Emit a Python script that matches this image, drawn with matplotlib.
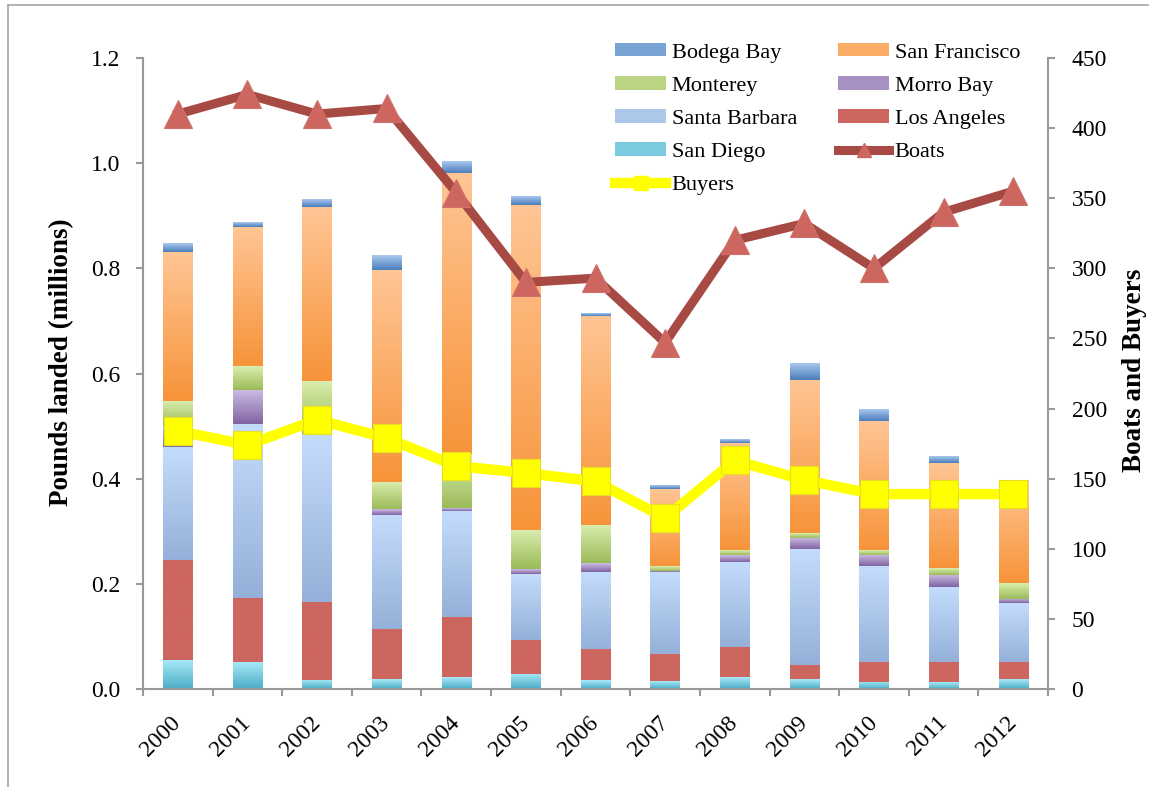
import numpy as np
import matplotlib
matplotlib.use("Agg")
import matplotlib.pyplot as plt
from matplotlib.patches import Patch
from matplotlib.lines import Line2D
from matplotlib.colors import to_rgb

plt.rcParams['font.family'] = ['Liberation Serif', 'DejaVu Serif']

# data (pounds landed in millions, stacked bottom -> top)
years = ['2000', '2001', '2002', '2003', '2004', '2005', '2006',
         '2007', '2008', '2009', '2010', '2011', '2012']
san_diego     = [0.055, 0.051, 0.018, 0.019, 0.022, 0.029, 0.017, 0.015, 0.022, 0.019, 0.014, 0.013, 0.019]
los_angeles   = [0.190, 0.122, 0.148, 0.095, 0.114, 0.065, 0.059, 0.051, 0.057, 0.027, 0.037, 0.038, 0.032]
santa_barbara = [0.216, 0.331, 0.318, 0.217, 0.203, 0.125, 0.147, 0.157, 0.163, 0.220, 0.182, 0.143, 0.113]
morro_bay     = [0.039, 0.065, 0.003, 0.011, 0.005, 0.009, 0.016, 0.002, 0.013, 0.022, 0.022, 0.023, 0.008]
monterey      = [0.048, 0.045, 0.099, 0.052, 0.102, 0.075, 0.073, 0.009, 0.009, 0.008, 0.009, 0.013, 0.030]
san_francisco = [0.283, 0.265, 0.331, 0.403, 0.535, 0.617, 0.398, 0.147, 0.203, 0.292, 0.246, 0.200, 0.194]
bodega_bay    = [0.017, 0.009, 0.015, 0.027, 0.022, 0.017, 0.005, 0.007, 0.006, 0.031, 0.021, 0.013, 0.000]

boats  = [410, 424, 410, 414, 354, 290, 293, 247, 320, 332, 300, 340, 355]
buyers = [184, 174, 192, 179, 159, 154, 148, 122, 163, 149, 139, 139, 139]

# name, values, top colour, bottom colour (excel style gradient)
series = [
    ('San Diego', san_diego, '#A8E8F8', '#4BADC6'),
    ('Los Angeles', los_angeles, '#CD665F', '#CD665F'),
    ('Santa Barbara', santa_barbara, '#C4DCFC', '#95B1D9'),
    ('Morro Bay', morro_bay, '#CDBDE4', '#8064A2'),
    ('Monterey', monterey, '#DAEEAE', '#9BBB59'),
    ('San Francisco', san_francisco, '#FFC594', '#F7943A'),
    ('Bodega Bay', bodega_bay, '#AAC8EF', '#4A7EBB'),
]

fig = plt.figure(figsize=(11.49, 7.87), dpi=100)
ax = fig.add_axes([143/1149, 1-689/787, (1048-143)/1149, (689-58)/787])
ax2 = ax.twinx()

x = np.arange(len(years))
w = 0.42
bottom = np.zeros(len(years))
mid = {}
for name, vals, ctop, cbot in series:
    t = np.array(to_rgb(ctop)); b = np.array(to_rgb(cbot))
    grad = np.linspace(0, 1, 64)[:, None, None]
    img = t[None, None, :] * (1 - grad) + b[None, None, :] * grad
    for i, v in enumerate(vals):
        if v <= 0:
            continue
        ax.imshow(img, extent=[x[i]-w/2, x[i]+w/2, bottom[i], bottom[i]+v],
                  aspect='auto', origin='upper', interpolation='bilinear', zorder=2)
    bottom += np.array(vals)
    mid[name] = tuple((t + b) / 2)

ax.set_xlim(-0.5, len(years)-0.5)
ax.set_ylim(0, 1.2)
ax.set_yticks(np.arange(0, 1.21, 0.2))
ax.set_yticklabels(['%.1f' % v for v in np.arange(0, 1.21, 0.2)])

ax2.plot(x, boats, color='#A84A44', lw=6.5, marker='^', ms=19.5,
         mfc='#CD665F', mec='#D0706A', mew=0.8, zorder=5, solid_joinstyle='miter')
ax2.plot(x, buyers, color='#FFFF00', lw=7.5, marker='s', ms=20,
         mfc='#FFFF00', mec='#E8E020', mew=0.8, zorder=4)
ax2.set_ylim(0, 450)
ax2.set_yticks(range(0, 451, 50))

gray = '#999999'
for a in (ax, ax2):
    for s in a.spines.values():
        s.set_color(gray)
        s.set_linewidth(1.5)
    a.spines['top'].set_visible(False)
ax2.spines['left'].set_visible(False)
ax2.spines['bottom'].set_visible(False)
ax.spines['right'].set_visible(False)

ax.tick_params(axis='y', direction='out', length=5, width=1.5, color=gray,
               labelsize=17, pad=11)
ax2.tick_params(axis='y', direction='out', length=5, width=1.5, color=gray,
                labelsize=17, pad=12)
ax.set_xticks(x)
ax.set_xticklabels(years)
ax.set_xticks(np.arange(-0.5, len(years)), minor=True)
ax.tick_params(axis='x', which='major', length=0, labelsize=17, pad=22)
ax.tick_params(axis='x', which='minor', direction='out', length=5, width=1.5, color=gray)
plt.setp(ax.get_xticklabels(), rotation=45, ha='right', va='center', rotation_mode='anchor')

fig.text(62/1149, 1-362/787, 'Pounds landed (millions)', rotation=90, ha='center',
         va='center', fontsize=19.5, fontweight='bold')
fig.text(1147/1149, 1-370/787, 'Boats and Buyers', rotation=90, ha='right',
         va='center', fontsize=19.5, fontweight='bold')

# legend, filled column by column
h = {name: Patch(facecolor=mid[name]) for name, _, _, _ in series}
h_boats = Line2D([], [], color='#A84A44', lw=6.5, marker='^', ms=10, mfc='#CD665F', mec='#CD665F')
h_buyers = Line2D([], [], color='#FFFF00', lw=7.5, marker='s', ms=10, mfc='#FFFF00', mec='#FFFF00')
handles = [h['Bodega Bay'], h['Monterey'], h['Santa Barbara'], h['San Diego'], h_buyers,
           h['San Francisco'], h['Morro Bay'], h['Los Angeles'], h_boats]
labels = ['Bodega Bay', 'Monterey', 'Santa Barbara', 'San Diego', 'Buyers',
          'San Francisco', 'Morro Bay', 'Los Angeles', 'Boats']
ax2.legend(handles, labels, ncol=2, loc='upper left', frameon=False,
           bbox_to_anchor=(615/1149, 1-43/787), bbox_transform=fig.transFigure,
           borderpad=0, borderaxespad=0, fontsize=16, handlelength=2.3,
           handleheight=0.55, handletextpad=0.25, labelspacing=0.61, columnspacing=1.85)

# thin chart frame (left and top edges visible)
fig.add_artist(Line2D([8/1149, 8/1149], [0, 1-5/787], color='#A6A6A6', lw=1.2))
fig.add_artist(Line2D([8/1149, 1], [1-5/787, 1-5/787], color='#A6A6A6', lw=1.2))

fig.savefig('out.png', dpi=100)
